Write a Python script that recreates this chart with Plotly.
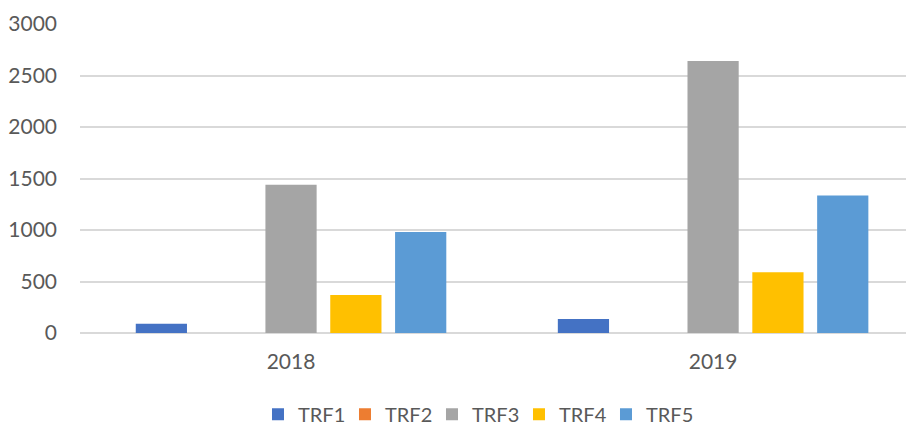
import plotly.graph_objects as go

years = ["2018", "2019"]
series_names = ["TRF1", "TRF2", "TRF3", "TRF4", "TRF5"]
trf1 = [90, 135]
trf2 = [0, 0]
trf3 = [1440, 2640]
trf4 = [370, 590]
trf5 = [980, 1335]
colors = ["#4472C4", "#ED7D31", "#A5A5A5", "#FFC000", "#5B9BD5"]

fig = go.Figure()
for name, vals, col in zip(series_names, [trf1, trf2, trf3, trf4, trf5], colors):
    fig.add_trace(go.Bar(name=name, x=years, y=vals, marker=dict(color=col, line=dict(width=0))))

font = dict(family="Lato, 'Open Sans', sans-serif", size=21, color="#595959")
fig.update_layout(
    width=906, height=418,
    margin=dict(l=72, r=0, t=16, b=93, autoexpand=False),
    plot_bgcolor="white", paper_bgcolor="white",
    barmode="group", bargap=0.232, bargroupgap=0.21,
    font=font,
    showlegend=True,
    legend=dict(orientation="h", xref="container", x=0.516, xanchor="center",
                yref="container", y=0.028, yanchor="middle",
                font=dict(family="Lato, 'Open Sans', sans-serif", size=20, color="#595959"),
                itemwidth=30, entrywidth=42, entrywidthmode="pixels", traceorder="normal"),
    xaxis=dict(type="category", range=[-0.5, 1.476], showgrid=False, showline=False,
               ticks="", tickfont=font, ticklabelstandoff=14),
    yaxis=dict(range=[0, 3000], tickvals=[0, 500, 1000, 1500, 2000, 2500, 3000],
               showgrid=True, gridcolor="#D9D9D9", gridwidth=1.5,
               zeroline=True, zerolinecolor="#D9D9D9", zerolinewidth=1.5,
               showline=False, ticks="", tickfont=font, ticklabelstandoff=22),
)
fig.write_html("out.html")
